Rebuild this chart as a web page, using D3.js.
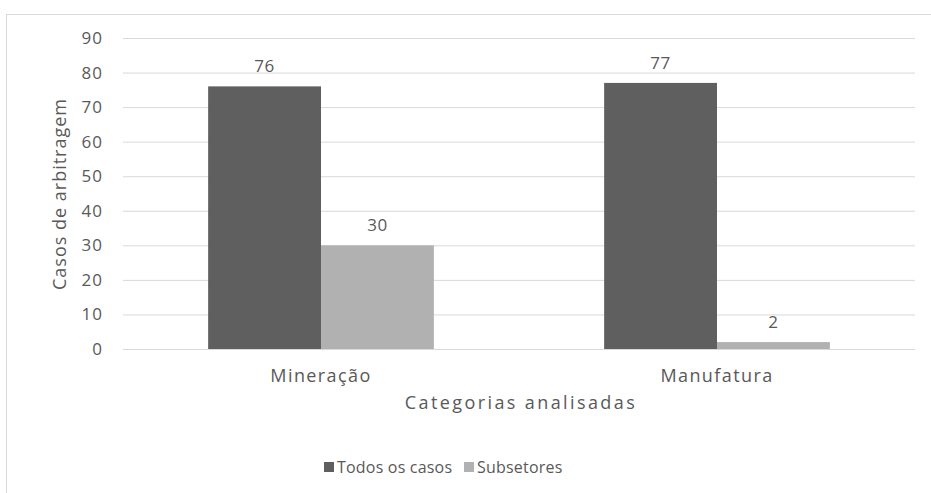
<!DOCTYPE html>
<html><head><meta charset="utf-8">
<script src="https://cdn.jsdelivr.net/npm/d3@7"></script>
<style>body{margin:0;background:#fff}svg{display:block}text{font-family:"Open Sans",sans-serif;fill:#595959}</style>
</head><body><svg id="c" width="931" height="493"></svg>
<script>
const categories = ["Mineração", "Manufatura"];
const seriesNames = ["Todos os casos", "Subsetores"];
const todosCasos = [76, 77];
const subsetores = [30, 2];
const yTicks = [0,10,20,30,40,50,60,70,80,90];
const colors = ["#5f5f5f", "#b1b1b1"];

const svg = d3.select("#c");
svg.append("rect").attr("x",6.5).attr("y",14.5).attr("width",940).attr("height",500)
  .attr("fill","#fff").attr("stroke","#d9d9d9");

const pLeft=123, pRight=915, pTop=38, pBottom=349;
const y = d3.scaleLinear().domain([0,90]).range([pBottom,pTop]);
const x0 = d3.scaleBand().domain(categories).range([pLeft,pRight]).paddingInner(0.43).paddingOuter(0.215);
const x1 = d3.scaleBand().domain(seriesNames).range([0,x0.bandwidth()]);

const yAxis = d3.axisLeft(y).tickValues(yTicks).tickSize(-(pRight-pLeft)).tickPadding(20);
const gy = svg.append("g").attr("transform",`translate(${pLeft},0)`).call(yAxis);
gy.select(".domain").remove();
gy.selectAll(".tick line").attr("stroke","#d9d9d9").attr("stroke-width",1);
gy.selectAll(".tick text").style("font-size","17px").style("letter-spacing","1px").attr("fill","#595959");

const data = categories.map((c,i)=>({cat:c, vals:[todosCasos[i], subsetores[i]]}));
const g = svg.append("g");
data.forEach(d=>{
  d.vals.forEach((v,j)=>{
    const bx = x0(d.cat)+x1(seriesNames[j]);
    g.append("rect").attr("x",bx).attr("y",y(v)).attr("width",x1.bandwidth()).attr("height",y(0)-y(v)).attr("fill",colors[j]);
    g.append("text").attr("x",bx+x1.bandwidth()/2).attr("y",y(v)-14).attr("text-anchor","middle")
      .style("font-size","17px").style("letter-spacing","0.5px").attr("fill","#404040").text(v);
  });
});

const xAxis = d3.axisBottom(x0).tickSize(0).tickPadding(20);
const gx = svg.append("g").attr("transform",`translate(0,${pBottom})`).call(xAxis);
gx.select(".domain").remove();
gx.selectAll(".tick text").style("font-size","18px").style("letter-spacing","1.4px").attr("fill","#595959");

svg.append("text").attr("x",(pLeft+pRight)/2 + 2).attr("y",409).attr("text-anchor","middle")
  .style("font-size","18px").style("letter-spacing","2.4px").text("Categorias analisadas");
svg.append("text").attr("transform",`translate(66,194) rotate(-90)`).attr("text-anchor","middle")
  .style("font-size","18px").style("letter-spacing","1px").text("Casos de arbitragem");

const lg = svg.append("g");
const legX=[324,464];
seriesNames.forEach((s,i)=>{
  lg.append("rect").attr("x",legX[i]).attr("y",462).attr("width",10).attr("height",10).attr("fill",colors[i]);
  lg.append("text").attr("x",legX[i]+13).attr("y",473).style("font-size","16px").style("letter-spacing","0.2px").text(s);
});
</script></body></html>
